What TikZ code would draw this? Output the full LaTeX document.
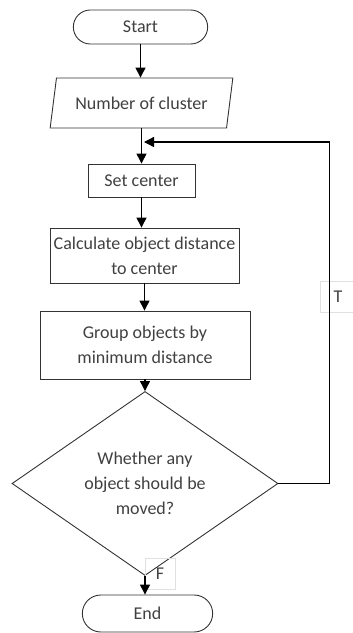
\documentclass[tikz,border=0pt]{standalone}
\usepackage{fontspec}
\setmainfont{Carlito}
\usetikzlibrary{shapes.geometric,shapes.misc,arrows.meta}

\begin{document}
\begin{tikzpicture}[x=1pt,y=-1pt,
    font=\fontsize{18}{25}\selectfont,
    every node/.style={text=black!75, align=center},
    terminal/.style={rounded rectangle, draw=black!80, line width=0.9pt},
    io/.style={trapezium, trapezium left angle=75, trapezium right angle=105,
        trapezium stretches=true, draw=black!80, line width=0.9pt},
    process/.style={rectangle, draw=black!80, line width=0.9pt},
    decision/.style={diamond, draw=black!80, line width=0.9pt, inner sep=0pt},
    lblbox/.style={rectangle, draw=black!12, line width=0.6pt},
    flow/.style={draw=black, line width=1.3pt, -{Triangle[length=10pt,width=10pt]}}]

    \useasboundingbox (0,0) rectangle (353,633);

    % the steps
    \node [terminal, minimum width=141, minimum height=34] (start) at (140.5,27) {Start};
    \node [io, minimum width=183, minimum height=50] (ncluster) at (141.5,103) {Number of cluster};
    \node [process, minimum width=107, minimum height=33] (setc) at (141.5,180.5) {Set center};
    \node [process, minimum width=189, minimum height=55] (calc) at (144.5,255.5)
        {Calculate object distance\\to center};
    \node [process, minimum width=210, minimum height=68] (group) at (145,345)
        {Group objects by\\minimum distance};
    \node [decision, minimum width=266, minimum height=147] (moved) at (145,483.5)
        {Whether any\\object should be\\moved?};
    \node [terminal, minimum width=137, minimum height=37] (stop) at (147.5,613.5) {End};

    % branch labels
    \node [lblbox, minimum width=36, minimum height=31] (tlabel) at (338,297) {T};
    \node [lblbox, minimum width=30, minimum height=31] (flabel) at (160,574) {F};

    \coordinate (merge) at (144,142);

    % connectors
    \draw [flow] (start.south) -- (start.south |- ncluster.north);
    \draw [flow] (ncluster.south) -- (ncluster.south |- setc.north);
    \draw [flow] (setc.south) -- (setc.south |- calc.north);
    \draw [flow] (calc.south) -- (calc.south |- group.north);
    \draw [flow] (group.south) -- (group.south |- moved.north);
    \draw [flow] (moved.south) -- (moved.south |- stop.north);
    \draw [flow] (moved.east) -- ++(51,0) |- (merge);   % loop back when true

\end{tikzpicture}
\end{document}
